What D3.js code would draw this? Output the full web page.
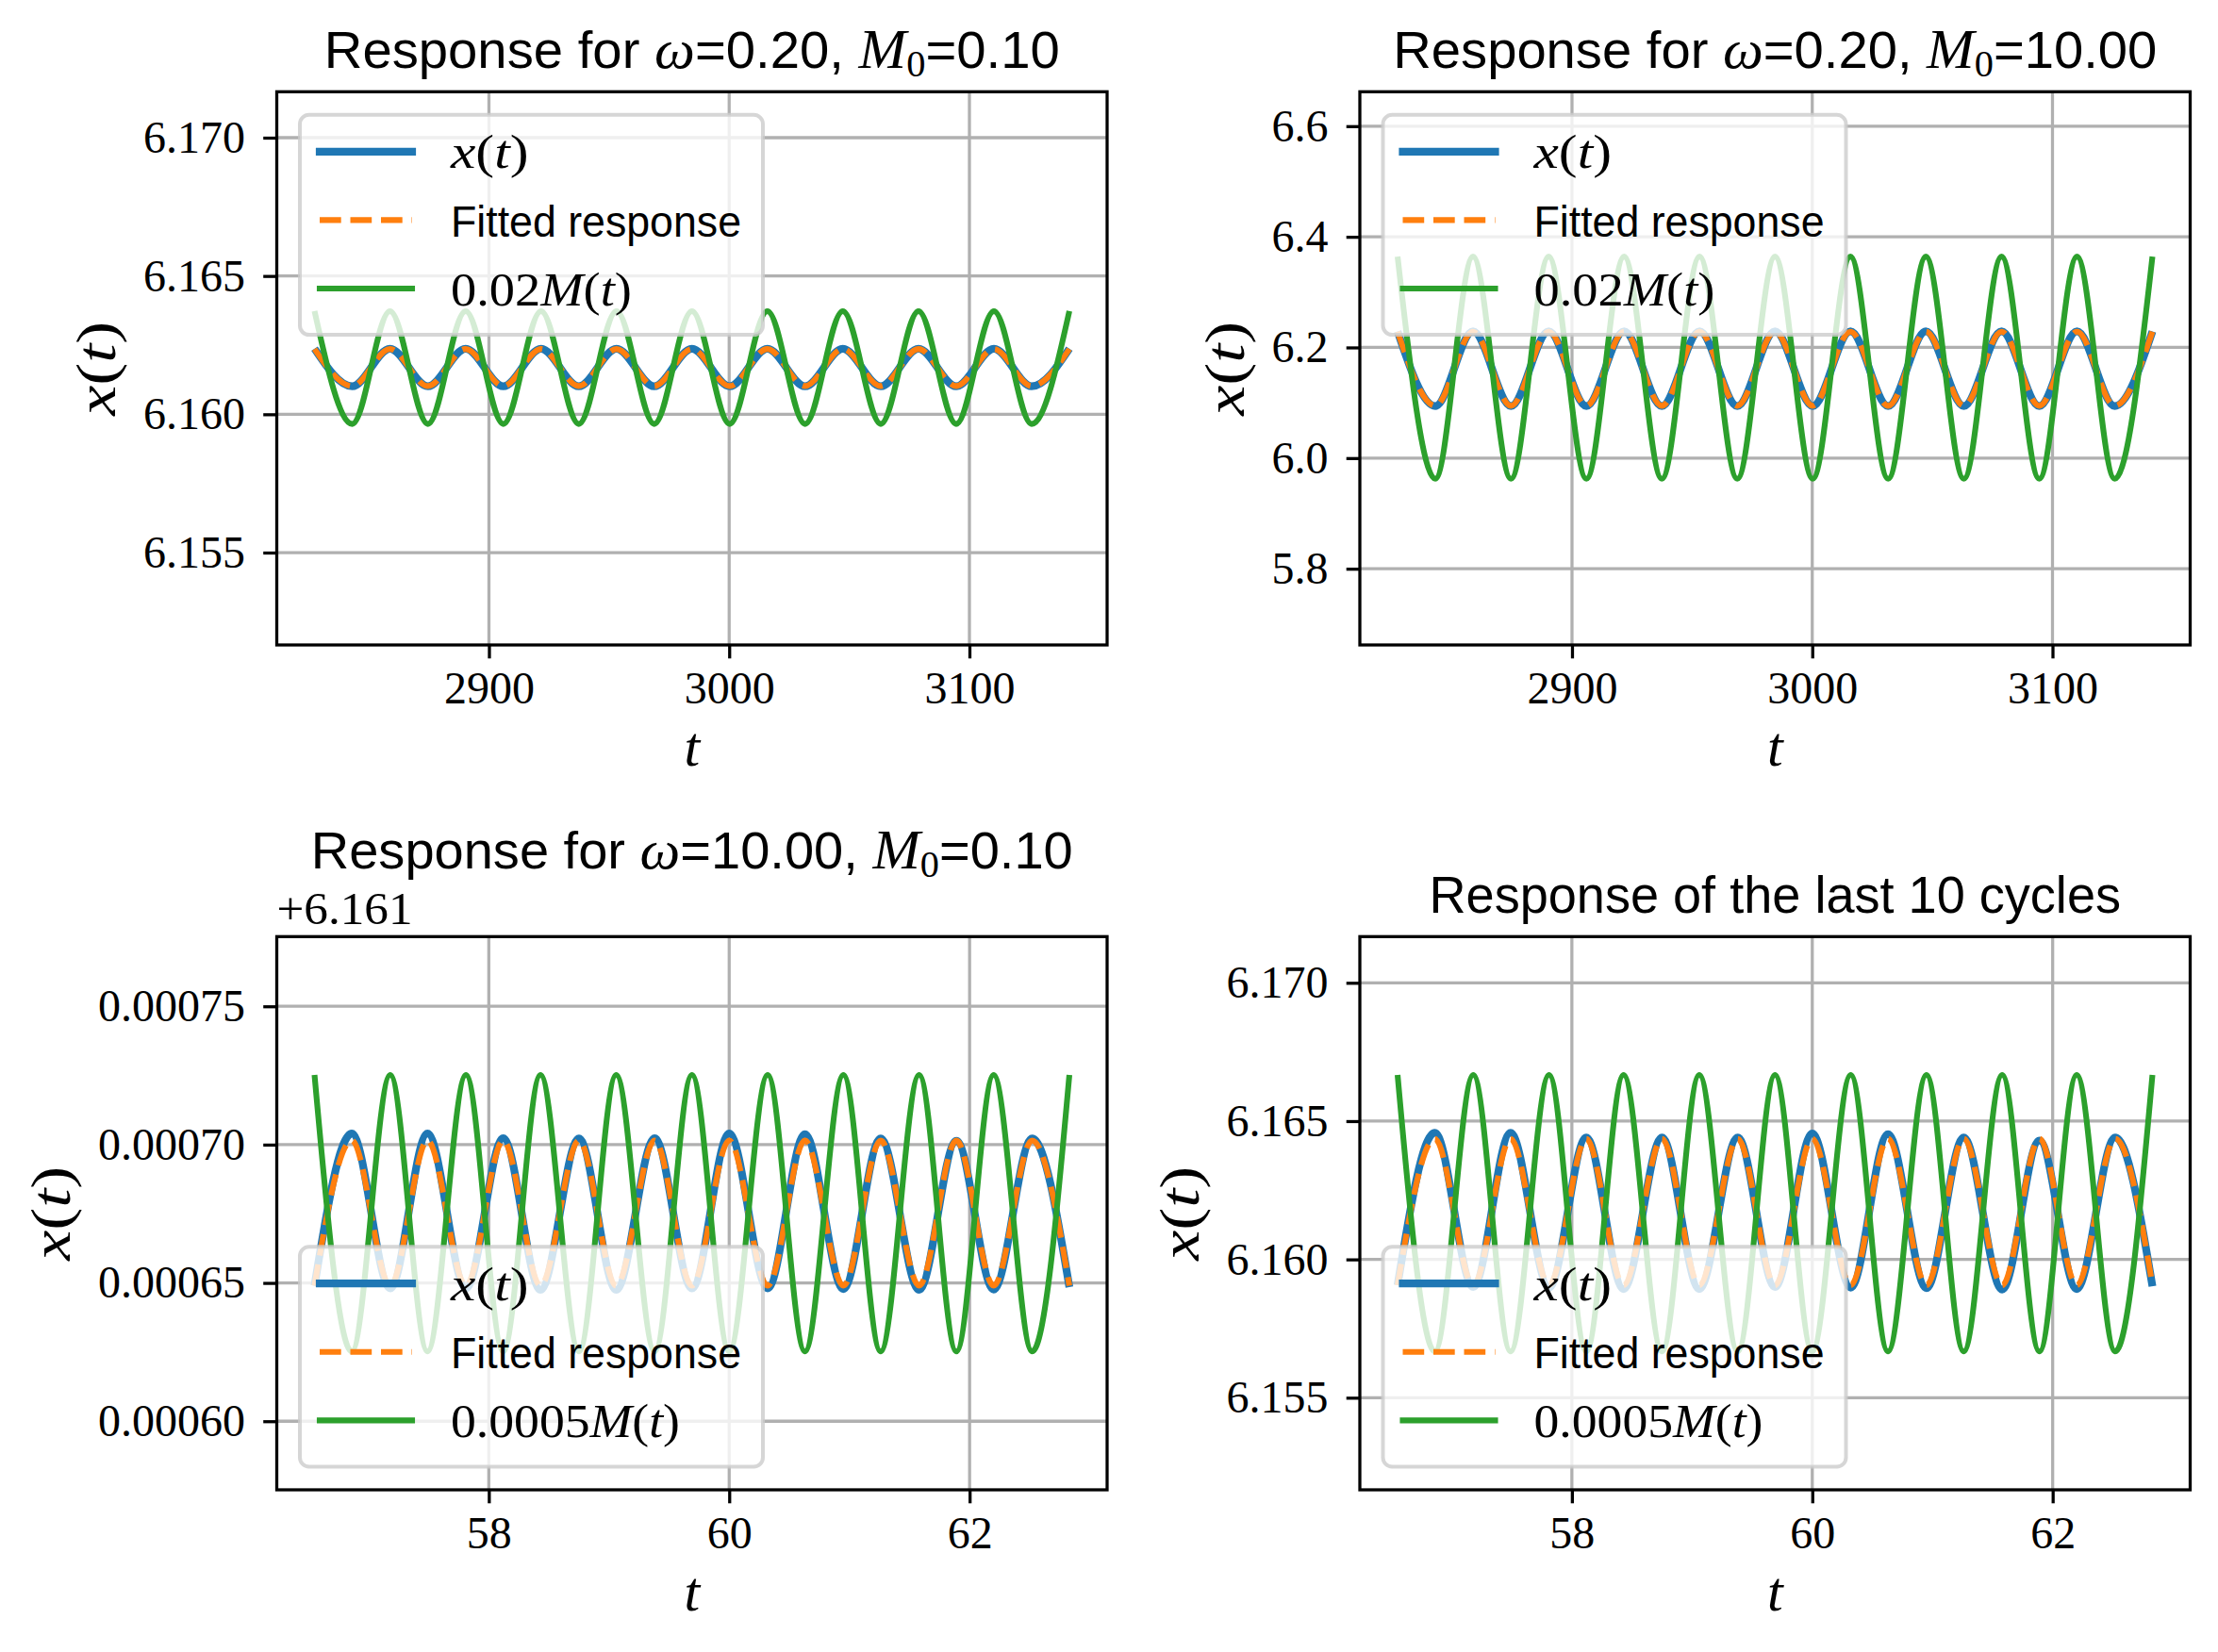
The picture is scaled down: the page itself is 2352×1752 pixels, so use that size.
<!DOCTYPE html>
<html>
<head>
<meta charset="utf-8">
<script src="https://cdn.jsdelivr.net/npm/d3@7"></script>
<style>
  html, body { margin: 0; padding: 0; background: #ffffff; }
  svg { display: block; }
</style>
</head>
<body>
<svg id="chart" width="2352" height="1752"></svg>
<script>
// ---------------- DATA (extrema) ----------------
// times of successive extrema, omega = 0.20 (last 10 cycles)
const tLow = [2827.4, 2843.1, 2858.8, 2874.6, 2890.3, 2906.0, 2921.7, 2937.4, 2953.1, 2968.8,
              2984.5, 3000.2, 3015.9, 3031.6, 3047.3, 3063.1, 3078.8, 3094.5, 3110.2, 3125.9, 3141.6];
// times of successive extrema, omega = 10.00 (last 10 cycles)
const tHigh = [56.55, 56.86, 57.18, 57.49, 57.81, 58.12, 58.43, 58.75, 59.06, 59.38,
               59.69, 60.00, 60.32, 60.63, 60.95, 61.26, 61.58, 61.89, 62.20, 62.52, 62.83];

// Panel A: omega=0.20, M0=0.10
const xA   = [6.16237, 6.16101, 6.16237, 6.16101, 6.16237, 6.16101, 6.16237, 6.16101, 6.16237, 6.16101, 6.16237,
              6.16101, 6.16237, 6.16101, 6.16237, 6.16101, 6.16237, 6.16101, 6.16237, 6.16101, 6.16237];
const fitA = [6.16236, 6.16102, 6.16236, 6.16102, 6.16236, 6.16102, 6.16236, 6.16102, 6.16236, 6.16102, 6.16236,
              6.16102, 6.16236, 6.16102, 6.16236, 6.16102, 6.16236, 6.16102, 6.16236, 6.16102, 6.16236];
const mA   = [6.16373, 6.15965, 6.16373, 6.15965, 6.16373, 6.15965, 6.16373, 6.15965, 6.16373, 6.15965, 6.16373,
              6.15965, 6.16373, 6.15965, 6.16373, 6.15965, 6.16373, 6.15965, 6.16373, 6.15965, 6.16373];

// Panel B: omega=0.20, M0=10.00
const xB   = [6.2290, 6.0940, 6.2290, 6.0940, 6.2290, 6.0940, 6.2290, 6.0940, 6.2290, 6.0940, 6.2290,
              6.0940, 6.2290, 6.0940, 6.2290, 6.0940, 6.2290, 6.0940, 6.2290, 6.0940, 6.2290];
const fitB = [6.2285, 6.0945, 6.2285, 6.0945, 6.2285, 6.0945, 6.2285, 6.0945, 6.2285, 6.0945, 6.2285,
              6.0945, 6.2285, 6.0945, 6.2285, 6.0945, 6.2285, 6.0945, 6.2285, 6.0945, 6.2285];
const mB   = [6.3643, 5.9625, 6.3643, 5.9625, 6.3643, 5.9625, 6.3643, 5.9625, 6.3643, 5.9625, 6.3643,
              5.9625, 6.3643, 5.9625, 6.3643, 5.9625, 6.3643, 5.9625, 6.3643, 5.9625, 6.3643];

// Panel C: omega=10.00, M0=0.10
const xC   = [6.1616490, 6.1617040, 6.1616480, 6.1617040, 6.1616480, 6.1617023, 6.1616475, 6.1617022, 6.1616475, 6.1617023, 6.1616480,
              6.1617040, 6.1616480, 6.1617038, 6.1616478, 6.1617022, 6.1616475, 6.1617014, 6.1616476, 6.1617022, 6.1616485];
const fitC = [6.1616490, 6.1617015, 6.1616490, 6.1617015, 6.1616490, 6.1617015, 6.1616490, 6.1617015, 6.1616490, 6.1617015, 6.1616490,
              6.1617015, 6.1616490, 6.1617015, 6.1616490, 6.1617015, 6.1616490, 6.1617015, 6.1616490, 6.1617015, 6.1616490];
const mC   = [6.1617252, 6.1616252, 6.1617252, 6.1616252, 6.1617252, 6.1616252, 6.1617252, 6.1616252, 6.1617252, 6.1616252, 6.1617252,
              6.1616252, 6.1617252, 6.1616252, 6.1617252, 6.1616252, 6.1617252, 6.1616252, 6.1617252, 6.1616252, 6.1617252];

// Panel D: response of the last 10 cycles
const xD   = [6.15907, 6.16458, 6.15900, 6.16458, 6.15898, 6.16441, 6.15893, 6.16441, 6.15893, 6.16441, 6.15900,
              6.16455, 6.15898, 6.16453, 6.15896, 6.16441, 6.15891, 6.16430, 6.15893, 6.16441, 6.15903];
const fitD = [6.15907, 6.16436, 6.15907, 6.16436, 6.15907, 6.16436, 6.15907, 6.16436, 6.15907, 6.16436, 6.15907,
              6.16436, 6.15907, 6.16436, 6.15907, 6.16436, 6.15907, 6.16436, 6.15907, 6.16436, 6.15907];
const mD   = [6.16667, 6.15667, 6.16667, 6.15667, 6.16667, 6.15667, 6.16667, 6.15667, 6.16667, 6.15667, 6.16667,
              6.15667, 6.16667, 6.15667, 6.16667, 6.15667, 6.16667, 6.15667, 6.16667, 6.15667, 6.16667];

// axis limits and ticks
const yLimA = [6.15166, 6.17166];
const yLimB = [5.6622, 6.6622];
const yLimC = [6.1615752, 6.1617752];
const yLimD = [6.15167, 6.17167];

const xTicksLow = [2900, 3000, 3100];
const xTickLabelsLow = ["2900", "3000", "3100"];
const xTicksHigh = [58, 60, 62];
const xTickLabelsHigh = ["58", "60", "62"];

const yTicksA = [6.155, 6.160, 6.165, 6.170];
const yTickLabelsA = ["6.155", "6.160", "6.165", "6.170"];
const yTicksB = [5.8, 6.0, 6.2, 6.4, 6.6];
const yTickLabelsB = ["5.8", "6.0", "6.2", "6.4", "6.6"];
const yTicksC = [6.1616, 6.16165, 6.1617, 6.16175];
const yTickLabelsC = ["0.00060", "0.00065", "0.00070", "0.00075"];
const yTicksD = [6.155, 6.160, 6.165, 6.170];
const yTickLabelsD = ["6.155", "6.160", "6.165", "6.170"];

// ---------------- STYLE / LAYOUT ----------------
const SERIF = "'Liberation Serif', 'DejaVu Serif', serif";
const SANS  = "'Liberation Sans', Arial, sans-serif";
const C_X = "#1f77b4", C_FIT = "#ff7f0e", C_M = "#2ca02c";
const FS_TICK = 48, FS_LEG = 47, FS_TITLE = 55, FS_LABEL = 60;
const MATH_SCALE = 1.08;
const SPINE_W = 3.27, TICK_LEN = 14.3;
const AX_W = 880.5, AX_H = 586.7;

const svg = d3.select("#chart");
svg.append("rect").attr("width", 2352).attr("height", 1752).attr("fill", "#ffffff");

// rich text helper: s = sans, r = serif roman, i = serif italic, sub = subscript
function rich(textSel, segs, fs, targetWidth, mathScale) {
  const ms = mathScale || 1;
  let pending = 0;
  segs.forEach(([type, str]) => {
    const ts = textSel.append("tspan").text(str);
    ts.attr("font-family", type === "s" ? SANS : SERIF);
    if (type === "i") ts.attr("font-style", "italic");
    if (type === "i" || type === "r") ts.attr("font-size", fs * ms);
    if (type === "sub") {
      ts.attr("font-size", fs * 0.72).attr("dy", fs * 0.16);
      pending = -fs * 0.16;
    } else if (pending) {
      ts.attr("dy", pending);
      pending = 0;
    }
  });
  if (targetWidth) {
    textSel.attr("textLength", targetWidth).attr("lengthAdjust", "spacingAndGlyphs");
  }
}

const mathX = [["i", "x"], ["r", "("], ["i", "t"], ["r", ")"]];

const panels = [
  { left: 293.5, top: 97.3, t: tLow, xs: xA, fit: fitA, m: mA, yLim: yLimA,
    xTicks: xTicksLow, xLabels: xTickLabelsLow, yTicks: yTicksA, yLabels: yTickLabelsA,
    title: [["s", "Response for "], ["i", "ω"], ["s", "=0.20, "], ["i", "M"], ["sub", "0"], ["s", "=0.10"]],
    titleW: 780, titleDy: -25.6, legendLoc: "upper",
    mLabel: [["r", "0.02"], ["i", "M"], ["r", "("], ["i", "t"], ["r", ")"]], mLabelW: 192 },
  { left: 1442, top: 97.3, t: tLow, xs: xB, fit: fitB, m: mB, yLim: yLimB,
    xTicks: xTicksLow, xLabels: xTickLabelsLow, yTicks: yTicksB, yLabels: yTickLabelsB,
    title: [["s", "Response for "], ["i", "ω"], ["s", "=0.20, "], ["i", "M"], ["sub", "0"], ["s", "=10.00"]],
    titleW: 810, titleDy: -25.6, legendLoc: "upper",
    mLabel: [["r", "0.02"], ["i", "M"], ["r", "("], ["i", "t"], ["r", ")"]], mLabelW: 192 },
  { left: 293.5, top: 993.3, t: tHigh, xs: xC, fit: fitC, m: mC, yLim: yLimC,
    xTicks: xTicksHigh, xLabels: xTickLabelsHigh, yTicks: yTicksC, yLabels: yTickLabelsC,
    title: [["s", "Response for "], ["i", "ω"], ["s", "=10.00, "], ["i", "M"], ["sub", "0"], ["s", "=0.10"]],
    titleW: 808, titleDy: -72.3, legendLoc: "lower", offsetText: "+6.161",
    mLabel: [["r", "0.0005"], ["i", "M"], ["r", "("], ["i", "t"], ["r", ")"]], mLabelW: 243 },
  { left: 1442, top: 993.3, t: tHigh, xs: xD, fit: fitD, m: mD, yLim: yLimD,
    xTicks: xTicksHigh, xLabels: xTickLabelsHigh, yTicks: yTicksD, yLabels: yTickLabelsD,
    title: [["s", "Response of the last 10 cycles"]],
    titleW: 733.5, titleDy: -25.6, legendLoc: "lower",
    mLabel: [["r", "0.0005"], ["i", "M"], ["r", "("], ["i", "t"], ["r", ")"]], mLabelW: 243 }
];

panels.forEach(p => {
  const g = svg.append("g").attr("transform", `translate(${p.left},${p.top})`);
  const ext = d3.extent(p.t);
  const pad = (ext[1] - ext[0]) * 0.05;
  const x = d3.scaleLinear().domain([ext[0] - pad, ext[1] + pad]).range([0, AX_W]);
  const y = d3.scaleLinear().domain(p.yLim).range([AX_H, 0]);

  // grid
  g.append("g").selectAll("line").data(p.xTicks).join("line")
    .attr("x1", d => x(d)).attr("x2", d => x(d)).attr("y1", 0).attr("y2", AX_H)
    .attr("stroke", "#b0b0b0").attr("stroke-width", SPINE_W);
  g.append("g").selectAll("line").data(p.yTicks).join("line")
    .attr("y1", d => y(d)).attr("y2", d => y(d)).attr("x1", 0).attr("x2", AX_W)
    .attr("stroke", "#b0b0b0").attr("stroke-width", SPINE_W);

  // series
  const line = d3.line().x(d => x(d[0])).y(d => y(d[1])).curve(d3.curveMonotoneX);
  g.append("path").datum(d3.zip(p.t, p.xs)).attr("d", line)
    .attr("fill", "none").attr("stroke", C_X).attr("stroke-width", 8.2).attr("stroke-linejoin", "round");
  g.append("path").datum(d3.zip(p.t, p.fit)).attr("d", line)
    .attr("fill", "none").attr("stroke", C_FIT).attr("stroke-width", 6.1)
    .attr("stroke-dasharray", "22.7 9.8");
  g.append("path").datum(d3.zip(p.t, p.m)).attr("d", line)
    .attr("fill", "none").attr("stroke", C_M).attr("stroke-width", 6.1).attr("stroke-linejoin", "round");

  // axes (ticks + labels)
  const xAxis = d3.axisBottom(x).tickValues(p.xTicks).tickFormat((d, i) => p.xLabels[i])
    .tickSize(TICK_LEN).tickPadding(13.4);
  const yAxis = d3.axisLeft(y).tickValues(p.yTicks).tickFormat((d, i) => p.yLabels[i])
    .tickSize(TICK_LEN).tickPadding(19.2);
  const gx = g.append("g").attr("transform", `translate(0,${AX_H})`).call(xAxis);
  const gy = g.append("g").call(yAxis);
  [gx, gy].forEach(a => {
    a.select(".domain").remove();
    a.selectAll(".tick line").attr("stroke", "#000").attr("stroke-width", SPINE_W);
    a.selectAll(".tick text").attr("fill", "#000").attr("font-family", SERIF).attr("font-size", FS_TICK);
  });

  // spines
  g.append("rect").attr("x", 0).attr("y", 0).attr("width", AX_W).attr("height", AX_H)
    .attr("fill", "none").attr("stroke", "#000").attr("stroke-width", SPINE_W);

  // legend
  const lg = g.append("g");
  const lgLeft = 24.5;
  const lgH = 233.3;
  const lgTop = p.legendLoc === "upper" ? 24.5 : AX_H - 24.5 - lgH;
  const box = lg.append("rect").attr("x", lgLeft).attr("y", lgTop).attr("height", lgH)
    .attr("rx", 9.8).attr("ry", 9.8)
    .attr("fill", "#ffffff").attr("fill-opacity", 0.8)
    .attr("stroke", "#cccccc").attr("stroke-opacity", 0.8).attr("stroke-width", 4);
  const rows = [
    { label: mathX, w0: 82.5, color: C_X, w: 8.2, dash: null, cap: "square" },
    { label: [["s", "Fitted response"]], w0: 308, color: C_FIT, w: 6.1, dash: "22.7 9.8", cap: "butt" },
    { label: p.mLabel, w0: p.mLabelW, color: C_M, w: 6.1, dash: null, cap: "square" }
  ];
  let maxW = 0;
  rows.forEach((r, i) => {
    const cy = lgTop + 39 + i * 72.6;
    lg.append("line").attr("x1", lgLeft + 21).attr("x2", lgLeft + 119).attr("y1", cy).attr("y2", cy)
      .attr("stroke", r.color).attr("stroke-width", r.w).attr("stroke-linecap", r.cap)
      .attr("stroke-dasharray", r.dash);
    const tx = lg.append("text").attr("x", lgLeft + 160).attr("y", cy + 17.6)
      .attr("font-size", FS_LEG).attr("fill", "#000");
    rich(tx, r.label, FS_LEG, r.w0, MATH_SCALE);
    maxW = Math.max(maxW, r.w0);
  });
  box.attr("width", 160 + maxW + 23);

  // title
  const tt = g.append("text").attr("x", AX_W / 2).attr("y", p.titleDy)
    .attr("text-anchor", "middle").attr("font-size", FS_TITLE).attr("fill", "#000");
  rich(tt, p.title, FS_TITLE, p.titleW, MATH_SCALE);

  // offset text
  if (p.offsetText) {
    g.append("text").attr("x", 0).attr("y", -13.3).attr("font-family", SERIF)
      .attr("font-size", FS_TICK).attr("fill", "#000")
      .attr("textLength", 144).attr("lengthAdjust", "spacingAndGlyphs")
      .text(p.offsetText);
  }

  // x label
  const xl = g.append("text").attr("x", AX_W / 2).attr("y", AX_H + 128)
    .attr("text-anchor", "middle").attr("font-size", FS_LABEL).attr("fill", "#000");
  rich(xl, [["i", "t"]], FS_LABEL);

  // y label, placed left of the tick labels
  const bb = gy.node().getBBox();
  const bx = bb.x - 16.3 - 13.5;
  const yl = g.append("text").attr("transform", `translate(${bx},${AX_H / 2}) rotate(-90)`)
    .attr("text-anchor", "middle").attr("font-size", FS_LABEL).attr("fill", "#000");
  rich(yl, mathX, FS_LABEL, 100);
});
</script>
</body>
</html>
